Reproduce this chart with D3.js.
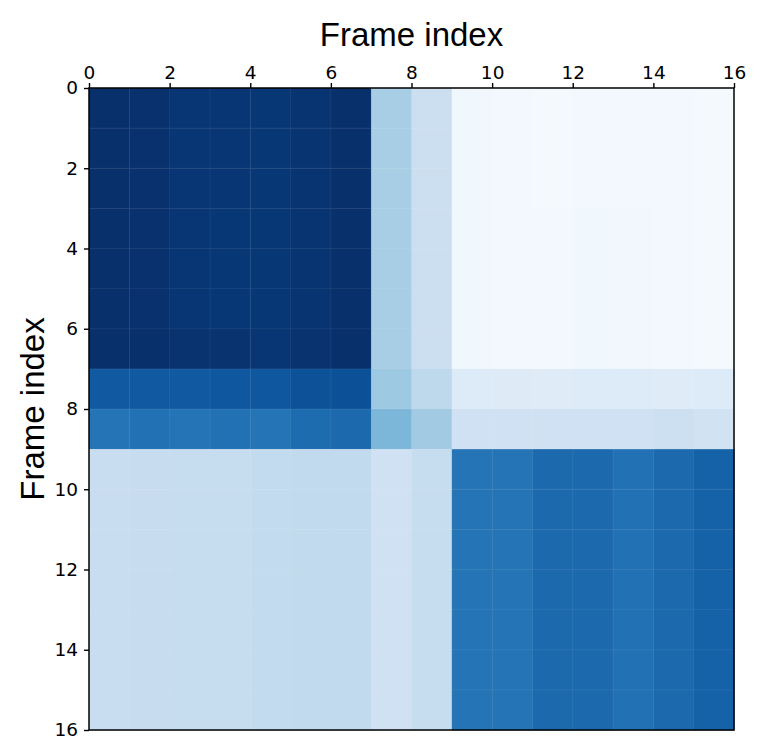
<!DOCTYPE html>
<html>
<head>
<meta charset="utf-8">
<script src="https://cdn.jsdelivr.net/npm/d3@7"></script>
<style>
  body { margin: 0; background: #fff; }
  svg { display: block; }
</style>
</head>
<body>
<svg id="chart" width="761" height="756"></svg>
<script>
// similarity between frames, one row per frame
const tickValues = [0, 2, 4, 6, 8, 10, 12, 14, 16];
const axisTitle = 'Frame index';

const row0  = [1.00, 0.995, 0.98, 0.98, 0.975, 0.985, 1.00, 0.34, 0.22, 0.035, 0.02, 0.015, 0.02, 0.025, 0.02, 0.015];
const row1  = [1.00, 0.995, 0.98, 0.98, 0.975, 0.985, 1.00, 0.34, 0.22, 0.035, 0.02, 0.015, 0.02, 0.025, 0.02, 0.015];
const row2  = [1.00, 0.995, 0.98, 0.98, 0.975, 0.985, 1.00, 0.34, 0.22, 0.035, 0.02, 0.015, 0.02, 0.025, 0.02, 0.015];
const row3  = [1.00, 0.995, 0.98, 0.975, 0.975, 0.985, 1.00, 0.34, 0.22, 0.035, 0.02, 0.02, 0.035, 0.03, 0.02, 0.015];
const row4  = [1.00, 0.995, 0.98, 0.975, 0.975, 0.985, 1.00, 0.34, 0.22, 0.035, 0.02, 0.02, 0.035, 0.03, 0.02, 0.015];
const row5  = [1.00, 0.995, 0.98, 0.975, 0.975, 0.985, 1.00, 0.34, 0.22, 0.035, 0.02, 0.02, 0.035, 0.03, 0.02, 0.015];
const row6  = [1.00, 1.00, 0.99, 0.99, 0.98, 0.99, 1.00, 0.34, 0.22, 0.035, 0.02, 0.02, 0.035, 0.03, 0.02, 0.015];
const row7  = [0.84, 0.84, 0.84, 0.85, 0.85, 0.87, 0.875, 0.37, 0.27, 0.13, 0.125, 0.12, 0.13, 0.13, 0.12, 0.13];
const row8  = [0.74, 0.75, 0.74, 0.75, 0.74, 0.77, 0.78, 0.46, 0.36, 0.20, 0.20, 0.20, 0.20, 0.20, 0.21, 0.19];
const row9  = [0.23, 0.235, 0.24, 0.24, 0.25, 0.26, 0.26, 0.20, 0.24, 0.74, 0.74, 0.78, 0.78, 0.75, 0.78, 0.81];
const row10 = [0.23, 0.235, 0.24, 0.24, 0.25, 0.26, 0.26, 0.20, 0.24, 0.74, 0.74, 0.78, 0.78, 0.75, 0.78, 0.81];
const row11 = [0.23, 0.235, 0.24, 0.24, 0.25, 0.26, 0.26, 0.20, 0.24, 0.74, 0.74, 0.78, 0.78, 0.75, 0.78, 0.81];
const row12 = [0.23, 0.235, 0.24, 0.24, 0.25, 0.26, 0.26, 0.20, 0.24, 0.74, 0.74, 0.78, 0.78, 0.75, 0.78, 0.81];
const row13 = [0.23, 0.235, 0.24, 0.24, 0.25, 0.26, 0.26, 0.20, 0.24, 0.74, 0.74, 0.78, 0.78, 0.75, 0.78, 0.81];
const row14 = [0.23, 0.235, 0.24, 0.24, 0.25, 0.26, 0.26, 0.20, 0.24, 0.74, 0.74, 0.78, 0.78, 0.75, 0.78, 0.81];
const row15 = [0.23, 0.235, 0.24, 0.24, 0.25, 0.26, 0.26, 0.20, 0.24, 0.74, 0.74, 0.78, 0.78, 0.75, 0.78, 0.81];

const matrix = [row0, row1, row2, row3, row4, row5, row6, row7,
                row8, row9, row10, row11, row12, row13, row14, row15];

const margin = { top: 88, right: 27, bottom: 26, left: 89 };
const width = 761 - margin.left - margin.right;
const height = 756 - margin.top - margin.bottom;

const svg = d3.select('#chart');

const x = d3.scaleLinear().domain([0, 16]).range([0, width]);
const y = d3.scaleLinear().domain([0, 16]).range([0, height]);
const color = d3.scaleSequential(d3.interpolateBlues).domain([0, 1]);

const cells = [];
matrix.forEach((row, i) => row.forEach((v, j) => cells.push({ i, j, v })));

const chart = svg.append('g')
    .attr('transform', `translate(${margin.left},${margin.top})`);

chart.selectAll('.cell')
    .data(cells)
    .enter().append('rect')
    .attr('class', 'cell')
    .attr('x', d => x(d.j))
    .attr('y', d => y(d.i))
    .attr('width', x(1) - x(0) + 0.5)
    .attr('height', y(1) - y(0) + 0.5)
    .attr('fill', d => color(d.v));

// faint seams between cells, like the resampled image
chart.selectAll('.seam')
    .data(cells)
    .enter().append('rect')
    .attr('class', 'seam')
    .attr('x', d => x(d.j))
    .attr('y', d => y(d.i))
    .attr('width', x(1) - x(0))
    .attr('height', y(1) - y(0))
    .attr('fill', 'none')
    .attr('stroke', 'rgba(255,255,255,0.04)')
    .attr('stroke-width', 1);

const xAxis = d3.axisTop(x).tickValues(tickValues).tickSize(5).tickPadding(4);
const yAxis = d3.axisLeft(y).tickValues(tickValues).tickSize(5).tickPadding(6);

const gx = chart.append('g').attr('class', 'x axis').call(xAxis);
const gy = chart.append('g').attr('class', 'y axis').call(yAxis);

[gx, gy].forEach(g => {
    g.select('.domain').remove();
    g.selectAll('line').attr('stroke', '#000').attr('stroke-width', 1.4);
    g.selectAll('text')
        .attr('fill', '#000')
        .style('font-family', '"DejaVu Sans", sans-serif')
        .style('font-size', '18.5px');
});

// frame around the image
chart.append('rect')
    .attr('x', 0)
    .attr('y', 0)
    .attr('width', width)
    .attr('height', height)
    .attr('fill', 'none')
    .attr('stroke', '#000')
    .attr('stroke-width', 1.5);

svg.append('text')
    .attr('x', margin.left + width / 2)
    .attr('y', 46)
    .attr('text-anchor', 'middle')
    .style('font-family', '"Liberation Sans", Arial, sans-serif')
    .style('font-size', '33px')
    .text(axisTitle);

svg.append('text')
    .attr('transform', `translate(44,${margin.top + height / 2}) rotate(-90)`)
    .attr('text-anchor', 'middle')
    .style('font-family', '"Liberation Sans", Arial, sans-serif')
    .style('font-size', '33px')
    .text(axisTitle);
</script>
</body>
</html>
